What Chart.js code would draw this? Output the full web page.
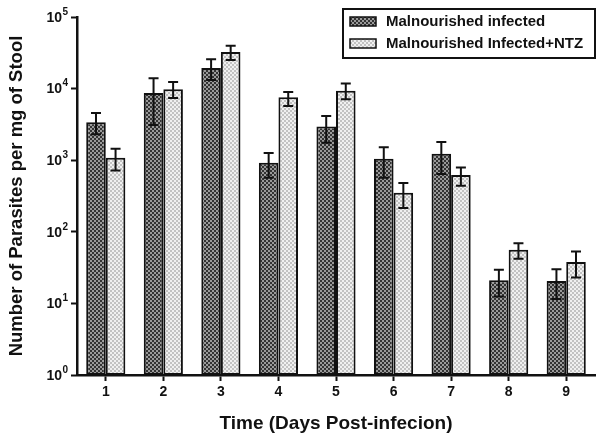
<!DOCTYPE html>
<html>
<head>
    <title>Parasites per mg of Stool</title>
    <script src="https://cdn.jsdelivr.net/npm/chart.js"></script>
    <style>
        body { margin: 0; background: #fff; }
        #wrap { width: 601px; height: 439px; }
    </style>
</head>
<body>
<div id="wrap"><canvas id="parasiteChart" width="601" height="439"></canvas></div>
<script>
    var days = ['1', '2', '3', '4', '5', '6', '7', '8', '9'];
    var seriesNames = ['Malnourished infected', 'Malnourished Infected+NTZ'];

    // mean values
    var infected = [3400, 8700, 19400, 920, 2950, 1050, 1230, 21, 20.5];
    var infectedNtz = [1080, 9800, 32500, 7600, 9300, 350, 620, 56, 38];

    // error bar ends (upper / lower)
    var infectedHigh = [4550, 14000, 25800, 1260, 4150, 1520, 1800, 29.5, 30];
    var infectedLow = [2300, 3100, 13200, 570, 1750, 570, 640, 12.5, 11.5];
    var ntzHigh = [1440, 12400, 39700, 9000, 11800, 480, 790, 69, 53];
    var ntzLow = [720, 7400, 25100, 5700, 7100, 215, 440, 42, 23];

    var yTicks = [1, 10, 100, 1000, 10000, 100000];
    var yExponents = ['0', '1', '2', '3', '4', '5'];

    function makePattern(a, b) {
        var c = document.createElement('canvas');
        c.width = 4; c.height = 4;
        var g = c.getContext('2d');
        g.fillStyle = a; g.fillRect(0, 0, 4, 4);
        g.fillStyle = b; g.fillRect(0, 0, 2, 2); g.fillRect(2, 2, 2, 2);
        return g.createPattern(c, 'repeat');
    }
    var darkFill = makePattern('#9a9a9a', '#333333');
    var lightFill = makePattern('#f0f0f0', '#c2c2c2');

    var errorBars = {
        id: 'errorBars',
        afterDatasetsDraw: function (chart) {
            var ctx = chart.ctx, y = chart.scales.y;
            var ends = [[infectedLow, infectedHigh], [ntzLow, ntzHigh]];
            ctx.save();
            ctx.strokeStyle = '#111';
            ctx.lineWidth = 2;
            chart.data.datasets.forEach(function (ds, i) {
                chart.getDatasetMeta(i).data.forEach(function (bar, j) {
                    var lo = y.getPixelForValue(ends[i][0][j]);
                    var hi = y.getPixelForValue(ends[i][1][j]);
                    ctx.beginPath();
                    ctx.moveTo(bar.x, lo); ctx.lineTo(bar.x, hi);
                    ctx.moveTo(bar.x - 5, lo); ctx.lineTo(bar.x + 5, lo);
                    ctx.moveTo(bar.x - 5, hi); ctx.lineTo(bar.x + 5, hi);
                    ctx.stroke();
                });
            });
            ctx.restore();
        }
    };

    // "10" with a raised exponent for each log tick
    var powerLabels = {
        id: 'powerLabels',
        afterDraw: function (chart) {
            var ctx = chart.ctx, y = chart.scales.y;
            ctx.save();
            ctx.fillStyle = '#111';
            ctx.textBaseline = 'middle';
            yTicks.forEach(function (v, i) {
                var py = y.getPixelForValue(v);
                ctx.font = 'bold 14px "Liberation Sans", Arial, sans-serif';
                ctx.textAlign = 'right';
                ctx.fillText('10', 62, py + 1);
                ctx.font = 'bold 10px "Liberation Sans", Arial, sans-serif';
                ctx.textAlign = 'left';
                ctx.fillText(yExponents[i], 62.5, py - 5);
            });
            ctx.restore();
        }
    };

    var boxLegend = {
        id: 'boxLegend',
        afterDraw: function (chart) {
            var ctx = chart.ctx;
            ctx.save();
            ctx.lineWidth = 2;
            ctx.strokeStyle = '#111';
            ctx.strokeRect(343, 9, 252, 49);
            ctx.font = 'bold 15px "Liberation Sans", Arial, sans-serif';
            ctx.textBaseline = 'middle';
            chart.data.datasets.forEach(function (ds, i) {
                var top = 17 + i * 22;
                ctx.fillStyle = ds.backgroundColor;
                ctx.fillRect(350, top, 26, 9);
                ctx.lineWidth = 1.5;
                ctx.strokeRect(350, top, 26, 9);
                ctx.fillStyle = '#111';
                ctx.fillText(ds.label, 386, top + 5);
            });
            ctx.restore();
        }
    };

    var ctx = document.getElementById('parasiteChart').getContext('2d');
    var parasiteChart = new Chart(ctx, {
        type: 'bar',
        data: {
            labels: days,
            datasets: [{
                label: seriesNames[0],
                data: infected,
                backgroundColor: darkFill,
                borderColor: '#111',
                borderWidth: 2,
                borderSkipped: false
            }, {
                label: seriesNames[1],
                data: infectedNtz,
                backgroundColor: lightFill,
                borderColor: '#111',
                borderWidth: 2,
                borderSkipped: false
            }]
        },
        options: {
            responsive: false,
            animation: false,
            layout: { padding: { top: 17, right: 6, left: 0, bottom: 0 } },
            categoryPercentage: 0.68,
            barPercentage: 1.0,
            plugins: {
                legend: { display: false },
                tooltip: { enabled: false }
            },
            scales: {
                x: {
                    offset: true,
                    grid: { offset: false, drawOnChartArea: false, drawTicks: true, tickLength: 6, tickWidth: 2, tickColor: '#111' },
                    border: { display: true, width: 2.5, color: '#111' },
                    ticks: { color: '#111', padding: 3, font: { family: 'Liberation Sans', weight: 'bold', size: 14 } },
                    title: {
                        display: true,
                        text: 'Time (Days Post-infecion)',
                        color: '#111',
                        padding: { top: 10, bottom: 4 },
                        font: { family: 'Liberation Sans', weight: 'bold', size: 19 }
                    },
                    afterFit: function (s) { s.height = 64; }
                },
                y: {
                    type: 'logarithmic',
                    min: 1,
                    max: 100000,
                    afterBuildTicks: function (s) {
                        s.ticks = yTicks.map(function (v) { return { value: v }; });
                    },
                    grid: { drawOnChartArea: false, drawTicks: true, tickLength: 6, tickWidth: 2, tickColor: '#111' },
                    border: { display: true, width: 2.5, color: '#111' },
                    ticks: { display: false },
                    title: {
                        display: true,
                        text: 'Number of Parasites per mg of Stool',
                        color: '#111',
                        padding: { top: 6, bottom: 4 },
                        font: { family: 'Liberation Sans', weight: 'bold', size: 18.5 }
                    },
                    afterFit: function (s) { s.width = 77; }
                }
            }
        },
        plugins: [errorBars, powerLabels, boxLegend]
    });
</script>
</body>
</html>
